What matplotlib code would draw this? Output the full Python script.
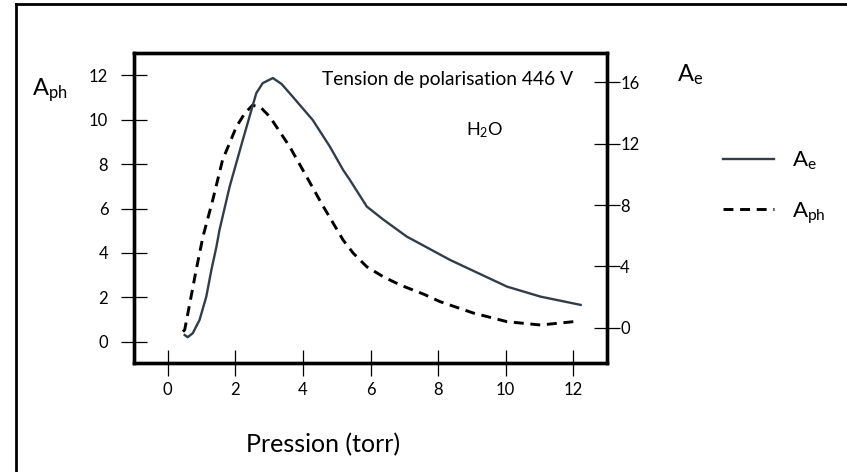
import matplotlib
matplotlib.use("Agg")
import matplotlib.pyplot as plt
from matplotlib.lines import Line2D

plt.rcParams['font.family'] = ['Lato', 'DejaVu Sans']
plt.rcParams['mathtext.fontset'] = 'custom'
plt.rcParams['mathtext.rm'] = 'Lato'
plt.rcParams['mathtext.it'] = 'Lato:italic'

# A_e (solid, right axis)
ae_x = [0.50, 0.59, 0.74, 0.94, 1.14, 1.29, 1.44, 1.53, 1.83, 2.22, 2.62, 2.81, 3.11, 3.37,
        3.70, 4.29, 4.80, 5.19, 5.39, 5.89, 6.38, 7.07, 8.36, 10.04, 11.03, 12.22]
ae_y = [-0.46, -0.60, -0.34, 0.52, 2.04, 3.77, 5.29, 6.37, 9.19, 12.23, 15.28, 15.93, 16.26, 15.87,
        15.04, 13.53, 11.79, 10.28, 9.63, 7.90, 7.05, 5.95, 4.42, 2.69, 2.04, 1.50]

# A_ph (dashed, left axis)
aph_x = [0.45, 0.50, 0.69, 0.84, 1.04, 1.33, 1.62, 2.03, 2.28, 2.51, 2.75, 3.02, 3.61, 4.11,
         4.55, 4.90, 5.19, 5.49, 5.89, 6.38, 6.88, 7.57, 8.06, 9.04, 10.04, 11.03, 12.01]
aph_y = [0.46, 0.54, 2.04, 3.24, 4.73, 6.38, 8.18, 9.68, 10.29, 10.65, 10.55, 10.13, 8.78, 7.43,
         6.23, 5.33, 4.58, 3.99, 3.38, 2.93, 2.56, 2.15, 1.81, 1.30, 0.91, 0.76, 0.91]

x_ticks = [0, 2, 4, 6, 8, 10, 12]
left_ticks = [0, 2, 4, 6, 8, 10, 12]
right_ticks = [0, 4, 8, 12, 16]

W, H = 847, 472
fig = plt.figure(figsize=(W / 100, H / 100), dpi=100)
ax = fig.add_axes([134 / W, 1 - 363 / H, (607 - 134) / W, (363 - 53) / H])
ax2 = ax.twinx()

l_ph, = ax.plot(aph_x, aph_y, color='black', lw=2.1, linestyle=(0, (3.4, 2.3)))
l_e, = ax2.plot(ae_x, ae_y, color='#323d4a', lw=1.7)

ax.set_xlim(-1.0, 13.0)
ax.set_ylim(-0.95, 13.0)
ax2.set_ylim(-2.28, 17.89)

ax.set_xticks(x_ticks)
ax.set_yticks(left_ticks)
ax2.set_yticks(right_ticks)

for a in (ax, ax2):
    for s in a.spines.values():
        s.set_linewidth(2.4)
        s.set_color('black')

ax.tick_params(axis='both', direction='inout', length=19, width=0.9, labelsize=12, colors='black')
ax.tick_params(axis='x', pad=4)
ax.tick_params(axis='y', pad=9)
ax2.tick_params(axis='y', direction='inout', length=19, width=0.9, labelsize=12, pad=0)

fig.text(323 / W, 1 - 445 / H, 'Pression (torr)', fontsize=18, ha='center', va='center')

ax.text(0.397, 0.913, 'Tension de polarisation 446 V', transform=ax.transAxes, fontsize=13.8,
        ha='left', va='center')
ax.text(0.742, 0.752, r'H$_{\mathrm{2}}$O', transform=ax.transAxes, fontsize=13,
        ha='center', va='center')

fig.text(32 / W, 1 - 90 / H, r'A$_{\mathrm{ph}}$', fontsize=17, ha='left', va='center')
fig.text(677 / W, 1 - 75 / H, r'A$_{\mathrm{e}}$', fontsize=17, ha='left', va='center')

fig.legend([l_e, l_ph], [r'A$_{\mathrm{e}}$', r'A$_{\mathrm{ph}}$'], frameon=False,
           loc='upper left', bbox_to_anchor=(703 / W, 1 - 130 / H), fontsize=16,
           handlelength=2.3, handletextpad=0.8, labelspacing=1.25)

# outer frame (only top and left visible)
fig.add_artist(Line2D([16 / W, 16 / W], [0, 1 - 4 / H], transform=fig.transFigure,
                      color='black', lw=2))
fig.add_artist(Line2D([16 / W, 1], [1 - 4 / H, 1 - 4 / H], transform=fig.transFigure,
                      color='black', lw=2))

fig.savefig('out.png', dpi=100)
